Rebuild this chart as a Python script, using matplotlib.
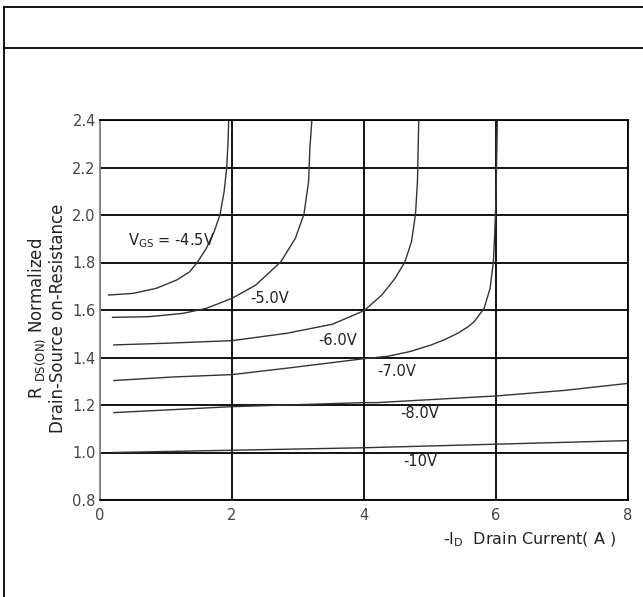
import numpy as np
import matplotlib
matplotlib.use('Agg')
import matplotlib.pyplot as plt

# curves: -Id (A) vs normalized Rds(on)
id_45 = [0.13, 0.5, 0.85, 1.16, 1.36, 1.48, 1.61, 1.73, 1.82, 1.88, 1.92, 1.94, 1.95]
r_45 = [1.663, 1.670, 1.691, 1.726, 1.761, 1.803, 1.859, 1.930, 2.003, 2.098, 2.199, 2.309, 2.40]

id_50 = [0.19, 0.75, 1.26, 1.61, 2.0, 2.36, 2.74, 2.96, 3.09, 3.16, 3.18, 3.21]
r_50 = [1.569, 1.572, 1.586, 1.607, 1.649, 1.705, 1.803, 1.902, 2.003, 2.140, 2.281, 2.40]

id_60 = [0.21, 1.0, 2.0, 2.83, 3.52, 4.0, 4.27, 4.47, 4.62, 4.72, 4.78, 4.81, 4.82, 4.83]
r_60 = [1.453, 1.460, 1.471, 1.502, 1.540, 1.597, 1.663, 1.733, 1.803, 1.888, 2.003, 2.140, 2.281, 2.40]

id_70 = [0.21, 1.11, 2.0, 2.86, 4.0, 4.36, 4.71, 5.02, 5.22, 5.42, 5.58, 5.67, 5.82,
         5.91, 5.96, 5.98, 6.0, 6.02]
r_70 = [1.303, 1.318, 1.328, 1.356, 1.395, 1.405, 1.426, 1.453, 1.475, 1.502, 1.530, 1.551, 1.607,
        1.691, 1.803, 1.916, 2.07, 2.40]

id_80 = [0.21, 2.0, 4.0, 4.19, 6.0, 7.02, 8.0]
r_80 = [1.168, 1.193, 1.21, 1.210, 1.238, 1.261, 1.291]

id_10 = [0.2, 4.0, 8.0]
r_10 = [1.0, 1.02, 1.05]

curves = [(id_45, r_45), (id_50, r_50), (id_60, r_60),
          (id_70, r_70), (id_80, r_80), (id_10, r_10)]

labels = [r'V$_{\rm GS}$ = -4.5V', '-5.0V', '-6.0V', '-7.0V', '-8.0V', '-10V']
label_x = [0.42, 2.27, 3.3, 4.2, 4.55, 4.6]
label_y = [1.89, 1.65, 1.47, 1.34, 1.166, 0.96]

xticks = [0, 2, 4, 6, 8]
yticks = [0.8, 1.0, 1.2, 1.4, 1.6, 1.8, 2.0, 2.2, 2.4]

txt = '#222222'

fig = plt.figure(figsize=(6.43, 5.97), dpi=100)
ax = fig.add_axes([100 / 643, 1 - 500 / 597, 528 / 643, 380 / 597])

for xs, ys in curves:
    ax.plot(xs, ys, color='#333333', lw=1.0)

for lab, lx, ly in zip(labels, label_x, label_y):
    ax.text(lx, ly, lab, fontsize=10.5, color=txt, ha='left', va='center')

ax.set_xlim(0, 8)
ax.set_ylim(0.8, 2.4)
ax.set_xticks(xticks)
ax.set_yticks(yticks)
ax.set_yticklabels(['%.1f' % v for v in yticks])
ax.grid(True, color='black', lw=1.3)
ax.tick_params(axis='y', length=0, labelsize=10.5, colors='#444444', pad=3)
ax.tick_params(axis='x', length=0, labelsize=10.5, colors='#444444', pad=6)
for s in ['top', 'right', 'bottom']:
    ax.spines[s].set_color('black')
    ax.spines[s].set_linewidth(1.3)
ax.spines['left'].set_color('#888888')
ax.spines['left'].set_linewidth(1.3)

fig.text(37 / 643, 1 - 318 / 597, r'R $_{\rm DS(ON)}$ Normalized', rotation=90,
         fontsize=12, color=txt, ha='center', va='center')
fig.text(58 / 643, 1 - 318 / 597, 'Drain-Source on-Resistance', rotation=90,
         fontsize=12, color=txt, ha='center', va='center')
fig.text(530 / 643, 1 - 540 / 597, r'-I$_{\rm D}$  Drain Current( A )',
         fontsize=11.5, color=txt, ha='center', va='center')

# table frame around the chart
fig.add_artist(plt.Line2D([4 / 643, 4 / 643], [0, 1 - 7 / 597], color='black', lw=1.3))
fig.add_artist(plt.Line2D([4 / 643, 1], [1 - 7 / 597, 1 - 7 / 597], color='black', lw=1.3))
fig.add_artist(plt.Line2D([4 / 643, 1], [1 - 48 / 597, 1 - 48 / 597], color='black', lw=1.3))

plt.savefig('out.png', dpi=100)
